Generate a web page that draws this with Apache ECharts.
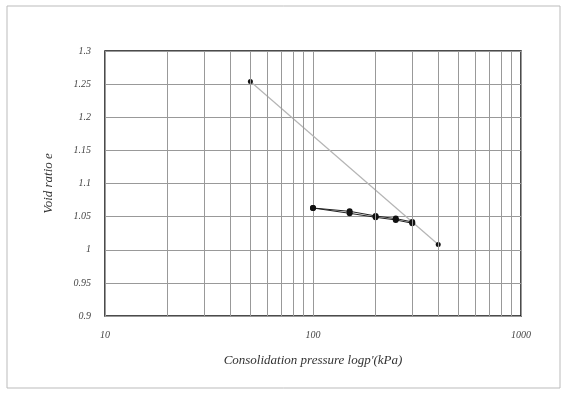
<!DOCTYPE html>
<html>
<head>
<meta charset="utf-8">
<script src="https://cdn.jsdelivr.net/npm/echarts@6/dist/echarts.min.js"></script>
<style>
html,body{margin:0;padding:0;background:#fff;}
#chart{width:567px;height:395px;}
</style>
</head>
<body>
<div id="chart"></div>
<script>
// 数据
var pressure = [100, 150, 200, 250, 300];
var voidUpper = [1.063, 1.058, 1.051, 1.047, 1.042];
var voidLower = [1.063, 1.055, 1.049, 1.045, 1.040];
var trendP = [50, 400];
var trendE = [1.254, 1.008];
var minorGrid = [20, 30, 40, 50, 60, 70, 80, 90, 200, 300, 400, 500, 600, 700, 800, 900];

function pairs(xs, ys){
	var out = [];
	for(var i = 0; i < xs.length; i++){
		out.push([xs[i], ys[i]]);
	}
	return out;
}

var fontF = '"Liberation Serif", "DejaVu Serif", serif';
var chart = echarts.init(document.getElementById('chart'));
var option = {
	animation: false,
	backgroundColor: '#fff',
	grid: {left: 105, right: 46, top: 51, bottom: 79, show: true, borderColor: '#111', borderWidth: 1.5},
	graphic: [{
		type: 'rect',
		shape: {x: 7, y: 6, width: 553, height: 382},
		style: {fill: 'none', stroke: '#bbb', lineWidth: 1}
	}],
	xAxis: {
		type: 'log', logBase: 10, min: 10, max: 1000,
		name: "Consolidation pressure logp'(kPa)",
		nameLocation: 'middle', nameGap: 38,
		nameTextStyle: {fontFamily: fontF, fontStyle: 'italic', fontSize: 13, color: '#333'},
		axisLine: {show: false},
		axisTick: {show: false},
		axisLabel: {fontFamily: fontF, fontStyle: 'italic', fontSize: 10, color: '#444', margin: 14,
			formatter: function(v){ return String(Math.round(v)); }},
		splitLine: {show: true, lineStyle: {color: '#999', width: 1}}
	},
	yAxis: {
		type: 'value', min: 0.9, max: 1.3, interval: 0.05,
		name: 'Void ratio e',
		nameLocation: 'middle', nameGap: 50, nameRotate: 90,
		nameTextStyle: {fontFamily: fontF, fontStyle: 'italic', fontSize: 13, color: '#333'},
		axisLine: {show: false},
		axisTick: {show: false},
		axisLabel: {fontFamily: fontF, fontStyle: 'italic', fontSize: 10, color: '#444', margin: 14,
			formatter: function(v){ return String(parseFloat(v.toFixed(2))); }},
		splitLine: {show: true, lineStyle: {color: '#999', width: 1}}
	},
	series: [
		{
			type: 'line', data: pairs(trendP, trendE),
			symbol: 'circle', symbolSize: 5,
			itemStyle: {color: '#111'},
			lineStyle: {color: '#b5b5b5', width: 1.2},
			markLine: {
				silent: true, symbol: 'none', label: {show: false},
				lineStyle: {color: '#999', width: 1, type: 'solid'},
				data: minorGrid.map(function(v){ return {xAxis: v}; })
			},
			z: 3
		},
		{
			type: 'line', data: pairs(pressure, voidUpper),
			symbol: 'circle', symbolSize: 6,
			itemStyle: {color: '#111'},
			lineStyle: {color: '#222', width: 1},
			z: 4
		},
		{
			type: 'line', data: pairs(pressure, voidLower),
			symbol: 'circle', symbolSize: 6,
			itemStyle: {color: '#111'},
			lineStyle: {color: '#222', width: 1},
			z: 4
		}
	]
};
chart.setOption(option);
</script>
</body>
</html>
